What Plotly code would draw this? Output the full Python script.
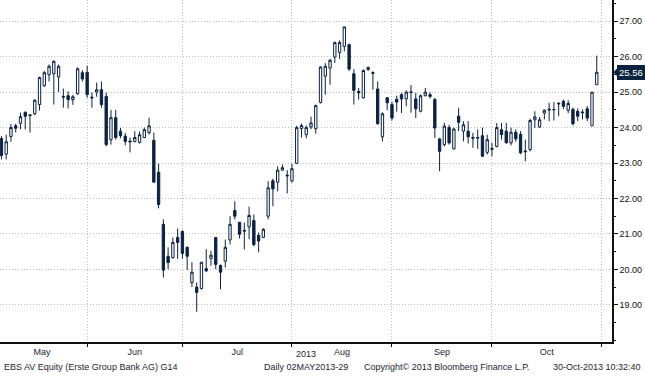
import pandas as pd
import plotly.graph_objects as go

# ---- data ----
holidays = ["2013-05-09", "2013-05-20", "2013-05-30", "2013-08-15"]
axis_days = [d.strftime("%Y-%m-%d") for d in pd.bdate_range("2013-05-02", "2013-10-31")
             if d.strftime("%Y-%m-%d") not in holidays]

opens = [23.69, 23.25, 23.75, 24.05, 24.12, 24.43, 24.36, 24.39, 24.65, 25.18,
         25.49, 25.52, 25.43, 24.88, 24.90, 24.79, 24.96, 25.55, 25.56, 24.86,
         25.00, 25.07, 24.88, 23.66, 24.28, 23.90, 23.76, 23.62, 23.61, 23.58,
         23.72, 23.86, 23.64, 22.74, 21.27, 20.37, 20.33, 20.90, 21.07, 20.62,
         19.63, 19.50, 19.46, 20.02, 20.31, 20.90, 20.11, 20.23, 20.83, 21.66,
         21.33, 21.10, 21.20, 21.38, 20.96, 20.90, 21.50, 22.50, 22.46, 22.80,
         22.66, 22.49, 22.99, 23.97, 23.80, 24.02, 23.97, 24.71, 25.45, 25.68,
         25.99, 26.12, 26.29, 26.34, 25.52, 25.02, 24.84, 25.64, 25.55, 25.09,
         23.74, 24.84, 24.65, 24.80, 24.93, 24.81, 25.01, 24.81, 24.46, 24.90,
         24.93, 24.79, 23.68, 23.52, 24.00, 23.40, 24.32, 23.90, 23.90, 23.72,
         23.70, 23.77, 23.30, 23.41, 23.47, 23.94, 23.90, 23.57, 23.87, 23.81,
         23.34, 23.38, 24.22, 24.02, 24.41, 24.52, 24.50, 24.69, 24.74, 24.49,
         24.51, 24.46, 24.44, 24.53, 24.05, 25.21]
highs = [23.76, 23.80, 24.10, 24.11, 24.42, 24.46, 24.37, 24.80, 25.44, 25.60,
         25.78, 25.90, 25.78, 25.10, 25.02, 24.92, 25.70, 25.62, 25.75, 24.99,
         25.27, 25.30, 24.99, 24.50, 24.50, 23.99, 23.85, 23.72, 23.90, 23.89,
         24.00, 24.28, 23.86, 22.98, 21.41, 20.62, 20.90, 21.15, 21.10, 20.65,
         20.20, 19.63, 20.20, 20.57, 20.52, 20.90, 20.14, 20.84, 21.50, 21.92,
         21.33, 21.32, 21.77, 21.55, 21.04, 21.16, 22.49, 22.56, 22.91, 22.96,
         22.80, 22.98, 24.05, 24.11, 24.06, 24.31, 24.65, 25.73, 25.82, 25.94,
         26.43, 26.46, 26.85, 26.37, 25.65, 25.12, 25.64, 25.72, 25.59, 25.30,
         24.43, 24.86, 24.73, 24.90, 24.98, 25.05, 25.20, 24.98, 24.93, 25.12,
         25.00, 24.84, 23.71, 24.13, 24.08, 24.00, 24.56, 24.18, 24.18, 23.85,
         23.95, 24.00, 23.80, 23.57, 24.13, 24.13, 24.13, 24.00, 23.95, 23.90,
         23.66, 24.25, 24.46, 24.30, 24.51, 24.70, 24.72, 24.71, 24.79, 24.77,
         24.57, 24.54, 24.51, 24.61, 25.00, 26.03]
lows = [23.10, 23.10, 23.60, 23.86, 23.95, 23.95, 23.86, 24.35, 24.48, 25.15,
        25.30, 24.65, 25.00, 24.56, 24.54, 24.64, 24.92, 25.30, 24.84, 24.56,
        24.87, 24.56, 23.47, 23.52, 23.66, 23.70, 23.50, 23.30, 23.58, 23.55,
        23.70, 23.80, 22.46, 21.72, 19.77, 20.00, 20.30, 20.30, 20.30, 19.98,
        19.50, 18.80, 19.43, 19.92, 20.10, 20.00, 19.44, 20.05, 20.70, 21.41,
        20.87, 20.56, 20.85, 20.65, 20.48, 20.88, 21.41, 21.78, 22.20, 22.78,
        22.14, 22.45, 22.97, 23.72, 23.70, 23.95, 23.83, 24.68, 24.93, 25.21,
        25.82, 25.94, 26.15, 25.60, 24.65, 24.79, 24.82, 25.60, 25.07, 24.08,
        23.61, 24.49, 24.20, 24.45, 24.41, 24.60, 24.42, 24.27, 24.43, 24.88,
        24.82, 23.71, 22.77, 23.47, 23.52, 23.38, 23.90, 23.61, 23.55, 23.43,
        23.40, 23.18, 23.24, 23.19, 23.44, 23.66, 23.55, 23.50, 23.60, 23.25,
        23.05, 23.33, 23.99, 23.99, 24.23, 24.18, 24.20, 24.32, 24.52, 24.41,
        24.06, 24.18, 24.23, 24.18, 24.05, 25.21]
closes = [23.21, 23.60, 24.00, 23.98, 24.31, 24.32, 24.34, 24.77, 25.41, 25.55,
          25.73, 25.87, 25.73, 24.86, 24.79, 24.87, 25.66, 25.37, 24.93, 24.84,
          25.07, 24.65, 23.52, 24.28, 23.72, 23.77, 23.61, 23.60, 23.72, 23.80,
          23.94, 24.05, 22.46, 21.83, 19.98, 20.19, 20.76, 20.76, 20.45, 20.37,
          19.92, 19.35, 20.20, 19.96, 20.40, 20.14, 19.92, 20.62, 21.27, 21.50,
          20.99, 21.08, 21.52, 20.70, 20.80, 21.13, 22.30, 22.27, 22.80, 22.87,
          22.64, 22.84, 24.00, 24.06, 24.00, 24.13, 24.62, 25.71, 25.73, 25.90,
          26.40, 26.40, 26.84, 25.65, 25.05, 24.98, 25.61, 25.70, 25.53, 24.11,
          24.39, 24.70, 24.27, 24.72, 24.81, 25.00, 24.99, 24.53, 24.90, 25.00,
          24.88, 23.99, 23.33, 24.04, 23.57, 23.96, 24.15, 24.08, 23.74, 23.70,
          23.72, 23.19, 23.66, 23.39, 24.00, 23.80, 23.57, 23.87, 23.68, 23.29,
          23.32, 24.20, 24.30, 24.22, 24.49, 24.50, 24.51, 24.67, 24.60, 24.68,
          24.11, 24.32, 24.42, 24.27, 25.00, 25.56]
dates = axis_days[:len(closes)]

price_ticks = [19, 20, 21, 22, 23, 24, 25, 26, 27]
month_names = ["May", "Jun", "Jul", "Aug", "Sep", "Oct"]

# ---- derived axis positions ----
pos = list(range(len(dates)))
months = [d[:7] for d in axis_days]
month_end = [i for i in range(len(axis_days)) if i == len(axis_days) - 1 or months[i + 1] != months[i]]
prev = [-1] + month_end[:-1]
month_mid = [(a + b) / 2 for a, b in zip(prev, month_end)]

NAVY = "#0c2340"
GRID = "#bdbdbd"
TXT = "#1e2533"
FONT = "Liberation Sans"

X0, X1 = -0.3, 128.2
Y0, Y1 = 17.95, 27.6
PLOT_W, PLOT_H = 612, 342

fig = go.Figure(go.Candlestick(
    x=pos, open=opens, high=highs, low=lows, close=closes,
    text=dates, hoverinfo="text+y",
    increasing=dict(line=dict(color=NAVY, width=1), fillcolor="white"),
    decreasing=dict(line=dict(color=NAVY, width=1), fillcolor=NAVY),
    whiskerwidth=0,
))

fig.update_layout(
    width=645, height=380,
    margin=dict(l=0, r=645 - PLOT_W, t=0, b=380 - PLOT_H),
    paper_bgcolor="white", plot_bgcolor="white",
    showlegend=False,
    font=dict(family=FONT, size=9, color=TXT),
    xaxis=dict(
        range=[X0, X1], rangeslider=dict(visible=False),
        tickmode="array", tickvals=month_mid, ticktext=month_names,
        ticks="", showgrid=False, zeroline=False,
        showline=True, linecolor="#111", linewidth=1.5,
        tickfont=dict(family=FONT, size=9, color=TXT),
        minor=dict(tickmode="array", tickvals=month_end, ticks="outside", ticklen=3,
                   tickcolor="#111", showgrid=True, gridcolor=GRID,
                   griddash="1px,2px", gridwidth=1),
    ),
    yaxis=dict(
        side="right", range=[Y0, Y1],
        tickmode="array", tickvals=price_ticks,
        ticktext=["%.2f" % v for v in price_ticks],
        ticks="outside", ticklen=4, tickcolor="#111",
        showline=True, linecolor="#111", linewidth=1.5,
        showgrid=True, gridcolor=GRID, griddash="1px,2px", gridwidth=1,
        zeroline=False,
        tickfont=dict(family=FONT, size=9, color="#111"),
        minor=dict(tickmode="linear", tick0=18, dtick=0.5, ticks="outside",
                   ticklen=2, tickcolor="#111", showgrid=False),
    ),
)

# last price marker: small pointer + label box
last = closes[-1]
yp = (last - Y0) / (Y1 - Y0)
hh = 6.5 / PLOT_H
tip, left = 613.5 / PLOT_W, 619.5 / PLOT_W
fig.add_shape(type="path", xref="paper", yref="paper",
              path=f"M {tip},{yp} L {left},{yp + hh} L {left},{yp - hh} Z",
              fillcolor=NAVY, line=dict(width=0))
fig.add_annotation(x=645 / PLOT_W, y=yp, xref="paper", yref="paper",
                   xanchor="right", yanchor="middle",
                   text="%.2f" % last, showarrow=False,
                   bgcolor=NAVY, borderpad=2, borderwidth=0,
                   font=dict(family=FONT, size=9.5, color="white"))

# footer texts
fig.add_annotation(x=306 / PLOT_W, y=0, xref="paper", yref="paper", yshift=-19,
                   text="2013", showarrow=False, font=dict(size=9, color=TXT))
footer = [
    (2, "left", "EBS AV Equity (Erste Group Bank AG) G14"),
    (262, "left", "Daily 02MAY2013-29"),
    (362, "left", "Copyright© 2013 Bloomberg Finance L.P."),
    (643, "right", "30-Oct-2013 10:32:40"),
]
for px, anchor, txt in footer:
    fig.add_annotation(x=px / PLOT_W, y=0, xref="paper", yref="paper", yshift=-32,
                       xanchor=anchor, text=txt, showarrow=False,
                       font=dict(size=9, color=TXT))

fig.write_html("out.html", config={"displayModeBar": False},
               post_script="document.body.style.margin='0px';")
